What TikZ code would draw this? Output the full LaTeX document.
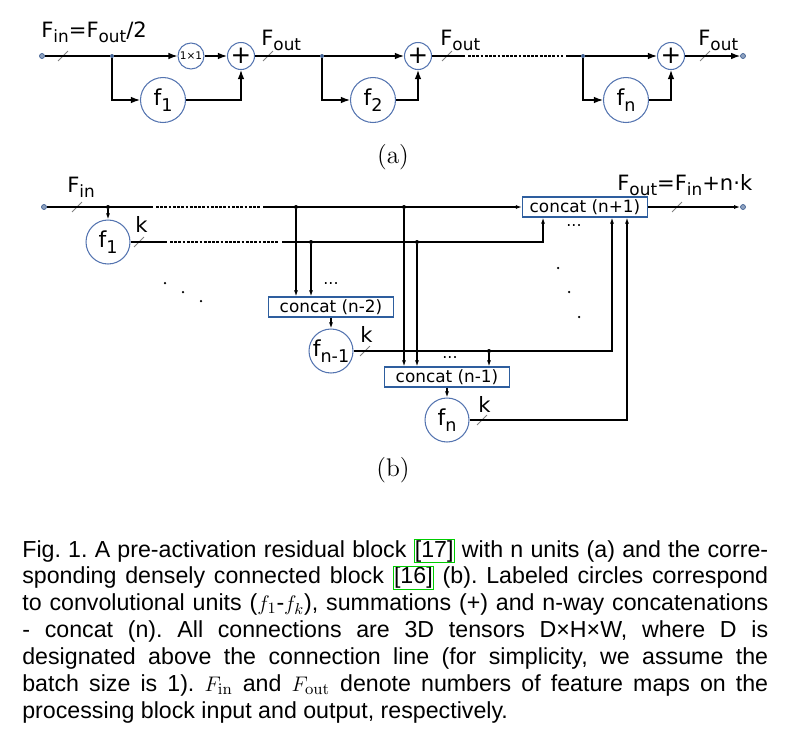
\documentclass[tikz,border=0pt]{standalone}
\usepackage{fontspec}
\usepackage{xcolor}
\usepackage{amsmath}
\usepackage{graphicx}
\usepackage{tikz}
\usetikzlibrary{shapes,arrows.meta}
\usetikzlibrary{positioning}
\newfontfamily\dvfont{DejaVu Sans}
\newfontfamily\capfont{Liberation Sans}
\definecolor{unitblue}{RGB}{84,116,176}
\definecolor{boxblue}{RGB}{46,94,158}
\definecolor{dotblue}{RGB}{66,98,148}
\tikzstyle{unit} = [circle, draw=unitblue, line width=0.6pt, inner sep=0pt, minimum size=0.9cm, font=\dvfont\fontsize{12.5}{14}\selectfont]
\tikzstyle{sumnode} = [circle, draw=unitblue, line width=0.6pt, inner sep=0pt, minimum size=0.54cm, font=\dvfont\fontsize{14}{14}\selectfont]
\tikzstyle{convnode} = [circle, draw=unitblue, line width=0.6pt, inner sep=0pt, minimum size=0.52cm, font=\dvfont\fontsize{6}{6}\selectfont]
\tikzstyle{catbox} = [rectangle, draw=boxblue, line width=0.7pt, inner sep=0pt, minimum width=2.5cm, minimum height=0.4cm, font=\dvfont\fontsize{9.6}{11}\selectfont]
\tikzstyle{joint} = [circle, fill=black, inner sep=0pt, minimum size=0.08cm]
\tikzstyle{jointa} = [circle, fill=dotblue, inner sep=0pt, minimum size=0.08cm]
\tikzstyle{port} = [circle, fill=dotblue!60, draw=dotblue, line width=0.4pt, inner sep=0pt, minimum size=0.1cm]
\tikzstyle{slash} = [rectangle, draw=gray, line width=0.5pt, inner sep=0pt, minimum width=0.28cm, minimum height=0pt, rotate=45]
\tikzstyle{wire} = [draw, line width=0.7pt]
\tikzstyle{wirea} = [wire, -{Latex[length=1.8mm,width=1.3mm]}]
\tikzstyle{wireb} = [wire, -{Latex[length=1.2mm,width=0.8mm]}]
\tikzstyle{gap} = [wire, dash pattern=on 1.6pt off 0.8pt]
\tikzstyle{lbl} = [inner sep=0pt, font=\dvfont\fontsize{12}{14}\selectfont]
\tikzstyle{fewdots} = [inner sep=0pt, font=\dvfont\fontsize{9}{9}\selectfont]
\tikzstyle{dotdot} = [circle, fill=black, inner sep=0pt, minimum size=0.05cm]
\newcommand{\lowsub}[1]{\raisebox{-0.5ex}{\scalebox{0.8}{#1}}}
\newcommand{\refbox}[1]{{\setlength{\fboxsep}{0.3pt}\fcolorbox{green!80!black}{white}{#1}}}
\frenchspacing

\begin{document}
\begin{tikzpicture}[auto, x=0.02cm, y=-0.02cm]
\useasboundingbox (0,0) rectangle (797,741);

%% (a) residual block

\node [port] at (42,56) (ina) {};
\node [slash] at (63,56) (sa1) {};
\node [jointa] at (112,56) (ja1) {};
\node [convnode] at (191,56) (cv) {1\texttimes1};
\node [sumnode] at (241,56) (pa1) {+};
\node [unit] at (163,100) (fa1) {f\lowsub{1}};
\node [slash] at (268,56) (sa2) {};
\node [jointa] at (322,56) (ja2) {};
\node [sumnode] at (418,56) (pa2) {+};
\node [unit] at (373,100) (fa2) {f\lowsub{2}};
\node [slash] at (447,56) (sa3) {};
\coordinate (da1) at (465,56);
\coordinate (da2) at (468,56);
\coordinate (da3) at (563,56);
\coordinate (da4) at (566,56);
\node [jointa] at (583,56) (ja3) {};
\node [sumnode] at (671,56) (pa3) {+};
\node [unit] at (626,100) (fa3) {f\lowsub{n}};
\node [slash] at (705,56) (sa4) {};
\node [port] at (743,56) (outa) {};

\path [wire] (ina) -- (ja1);
\path [wirea] (ja1) -- (cv);
\path [wirea] (cv) -- (pa1);
\path [wirea] (ja1) |- (fa1);
\path [wirea] (fa1) -| (pa1);
\path [wire] (pa1) -- (ja2);
\path [wirea] (ja2) -- (pa2);
\path [wirea] (ja2) |- (fa2);
\path [wirea] (fa2) -| (pa2);
\path [wire] (pa2) -- (da1);
\path [gap] (da2) -- (da3);
\path [wire] (da4) -- (ja3);
\path [wirea] (ja3) -- (pa3);
\path [wirea] (ja3) |- (fa3);
\path [wirea] (fa3) -| (pa3);
\path [wirea] (pa3) -- (outa);

%% (b) dense block

\node [port] at (44,207) (inb) {};
\node [slash] at (77,207) (sb1) {};
\node [joint] at (108,207) (jb0) {};
\coordinate (tb1) at (153,207);
\coordinate (tb2) at (156,207);
\coordinate (tb3) at (260,207);
\coordinate (tb4) at (263,207);
\node [joint] at (296,207) (jt1) {};
\node [joint] at (404,207) (jt2) {};
\node [unit, minimum size=0.88cm] at (108,242) (gb1) {f\lowsub{1}};
\node [slash] at (139,242) (sb2) {};
\coordinate (sc1) at (167,242);
\coordinate (sc2) at (170,242);
\coordinate (sc3) at (278,242);
\coordinate (sc4) at (282,242);
\node [joint] at (311,242) (js1) {};
\node [joint] at (417,242) (js2) {};
\node [catbox] at (331,307) (cat1) {concat (n-2)};
\node [unit, minimum size=0.88cm] at (331,351) (gb2) {f\lowsub{n-1}};
\node [slash] at (365,351) (sb3) {};
\node [joint] at (489,351) (jn1) {};
\node [catbox] at (447,377) (cat2) {concat (n-1)};
\node [unit, minimum size=0.88cm] at (447,420) (gb3) {f\lowsub{n}};
\node [slash] at (482,420) (sb4) {};
\node [catbox] at (585,207) (cat3) {concat (n+1)};
\node [slash] at (677,207) (sb5) {};
\node [port] at (743,207) (outb) {};

\path [wire] (inb) -- (tb1);
\path [gap] (tb2) -- (tb3);
\path [wireb] (tb4) -- (cat3);
\path [wireb] (jb0) -- (gb1);
\path [wire] (gb1) -- (sc1);
\path [gap] (sc2) -- (sc3);
\path [wireb] (sc4) -| ([xshift=-0.84cm]cat3.south);
\path [wireb] (jt1) -- (jt1 |- cat1.north);
\path [wireb] (js1) -- (js1 |- cat1.north);
\path [wireb] (jt2) -- (jt2 |- cat2.north);
\path [wireb] (js2) -- (js2 |- cat2.north);
\path [wireb] (cat1) -- (gb2);
\path [wireb] (gb2) -| ([xshift=0.54cm]cat3.south);
\path [wireb] (jn1) -- (jn1 |- cat2.north);
\path [wireb] (cat2) -- (gb3);
\path [wireb] (gb3) -| ([xshift=0.84cm]cat3.south);
\path [wireb] (cat3) -- (outb);

%% dots

\node [dotdot] at (165,283) (dl1) {};
\node [dotdot] at (183,292) (dl2) {};
\node [dotdot] at (201,301) (dl3) {};
\node [dotdot] at (558,268) (dr1) {};
\node [dotdot] at (569,292) (dr2) {};
\node [dotdot] at (579,317) (dr3) {};
\node [fewdots] at (331,284) (e1) {...};
\node [fewdots] at (450,358) (e2) {...};
\node [fewdots] at (574,226) (e3) {...};

%% annotations

\node [lbl, anchor=base west] at (41,37) (la1) {F\lowsub{in}=F\lowsub{out}/2};
\node [lbl, anchor=base west] at (261,45) (la2) {F\lowsub{out}};
\node [lbl, anchor=base west] at (440,45) (la3) {F\lowsub{out}};
\node [lbl, anchor=base west] at (698,45) (la4) {F\lowsub{out}};
\node [lbl, anchor=base west] at (67,192) (lb1) {F\lowsub{in}};
\node [lbl, anchor=base west] at (617,190) (lb2) {F\lowsub{out}=F\lowsub{in}+n·k};
\node [lbl, anchor=base west] at (135,232) (kb1) {k};
\node [lbl, anchor=base west] at (360,342) (kb2) {k};
\node [lbl, anchor=base west] at (478,412) (kb3) {k};
\node [font=\fontsize{14.5}{16}\selectfont] at (393,157) (capa) {(a)};
\node [font=\fontsize{14.5}{16}\selectfont] at (393,470) (capb) {(b)};

\node [anchor=base west, inner sep=0pt, text width=14.92cm, align=justify, font=\capfont\fontsize{13.2}{15.3}\selectfont] at (22,557) (caption) {Fig. 1. A pre-activation residual block \refbox{[17]} with n units (a) and the corre-\linebreak sponding densely connected block \refbox{[16]} (b). Labeled circles correspond\linebreak to convolutional units ($f_1$-$f_k$), summations (+) and n-way concatenations\linebreak - concat (n). All connections are 3D tensors D×H×W, where D is\linebreak designated above the connection line (for simplicity, we assume the\linebreak batch size is 1). $F_{\rm in}$ and $F_{\rm out}$ denote numbers of feature maps on the\linebreak processing block input and output, respectively.};

\end{tikzpicture}
\end{document}
